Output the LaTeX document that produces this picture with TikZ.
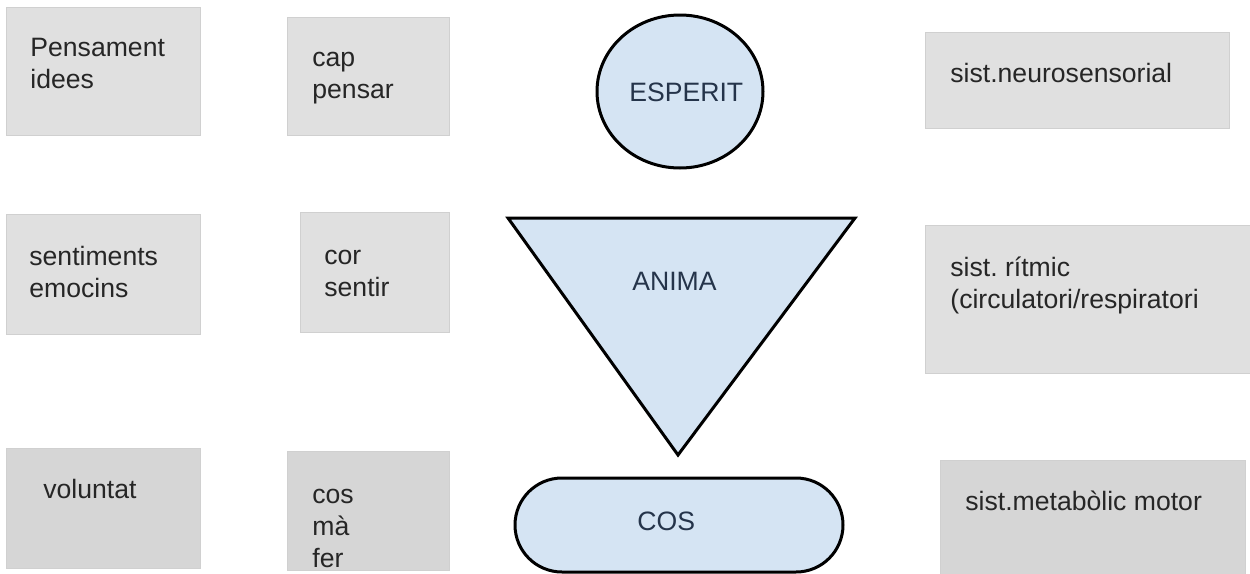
\documentclass[tikz,border=0pt]{standalone}
\usepackage{fontspec}
\setmainfont{Liberation Sans}
\frenchspacing
\usetikzlibrary{shapes.geometric,shapes.misc}

\definecolor{lightbox}{HTML}{E0E0E0}
\definecolor{darkbox}{HTML}{D6D6D6}
\definecolor{boxline}{HTML}{D0D0D0}
\definecolor{partblue}{HTML}{D5E4F3}
\definecolor{boxtext}{HTML}{262626}
\definecolor{parttext}{HTML}{25344A}

\tikzset{
	greybox/.style={rectangle, draw=boxline, line width=0.4pt, fill=lightbox, anchor=north west, inner sep=0pt},
	lowbox/.style={greybox, fill=darkbox},
	part/.style={draw=black, line width=1.5pt, fill=partblue, inner sep=0pt},
	words/.style={anchor=base west, inner sep=0pt, align=left, text=boxtext,
		font=\fontsize{13.3}{16}\selectfont},
	partname/.style={words, text=parttext}
}

\begin{document}
\begin{tikzpicture}[x=0.5pt, y=-0.5pt]
		\fill[white] (0,0) rectangle (1250,574);
		\useasboundingbox (0,0) rectangle (1250,574);

		% left column (multi-line text sits on its last line)
		\node[greybox, minimum width=97pt, minimum height=64pt] (pensament) at (6,7) {};
		\node[greybox, minimum width=97pt, minimum height=60pt] (sentiments) at (6,214) {};
		\node[lowbox, minimum width=97pt, minimum height=60pt] (voluntat) at (6,448) {};
		\node[words] (pensamentT) at (30,88) {Pensament\\idees};
		\node[words] (sentimentsT) at (29,297) {sentiments\\emocins};
		\node[words] (voluntatT) at (43,498) {voluntat};

		% organs
		\node[greybox, minimum width=81pt, minimum height=59pt] (cap) at (287,17) {};
		\node[greybox, minimum width=74.5pt, minimum height=60pt] (cor) at (300,212) {};
		\node[lowbox, minimum width=81pt, minimum height=59.5pt] (cos) at (287,451) {};
		\node[words] (capT) at (312,98) {cap\\pensar};
		\node[words] (corT) at (324,296) {cor\\sentir};
		\node[words] (cosT) at (312,567) {cos\\mà\\fer};

		% esperit, anima, cos
		\node[part, ellipse, minimum width=83pt, minimum height=76.5pt] (esperit) at (680,91.5) {};
		\draw[part, line join=miter] (508,218) coordinate (animaL) -- (855,218) coordinate (animaR)
			-- (678,455) coordinate (animaB) -- cycle;
		\node[part, rounded rectangle, minimum width=164pt, minimum height=47pt] (cosPart) at (679,525) {};
		\node[partname] (esperitT) at (629,101) {ESPERIT};
		\node[partname] (animaT) at (632,290) {ANIMA};
		\node[partname] (cosPartT) at (637,530) {COS};

		% systems
		\node[greybox, minimum width=152pt, minimum height=48pt] (neuro) at (925,32) {};
		\node[greybox, minimum width=163.5pt, minimum height=74pt] (ritmic) at (925,225) {};
		\node[lowbox, minimum width=152.5pt, minimum height=60pt] (metabolic) at (940,460) {};
		\node[words] (neuroT) at (950,82) {sist.neurosensorial};
		\node[words] (ritmicT) at (950,308) {sist. rítmic\\(circulatori/respiratori};
		\node[words] (metabolicT) at (965,510) {sist.metabòlic motor};
	\end{tikzpicture}
\end{document}
